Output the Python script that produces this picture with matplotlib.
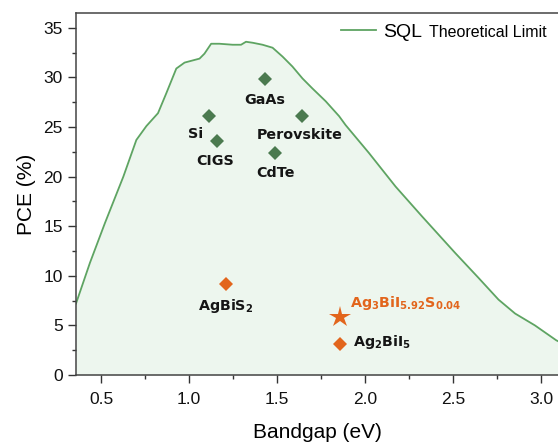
import matplotlib
matplotlib.use("Agg")
import matplotlib.pyplot as plt
from matplotlib.ticker import MultipleLocator

# SQ limit curve
bandgap = [0.357, 0.436, 0.521, 0.626, 0.700, 0.757, 0.823, 0.870, 0.927, 0.974,
           1.059, 1.087, 1.125, 1.172, 1.247, 1.295, 1.323, 1.361, 1.417, 1.474,
           1.531, 1.587, 1.644, 1.700, 1.776, 1.852, 1.889, 2.021, 2.173, 2.323,
           2.512, 2.644, 2.758, 2.852, 2.965, 3.086, 3.12]
sql_pce = [7.2, 11.3, 15.3, 20.0, 23.7, 25.1, 26.4, 28.4, 30.9, 31.5,
           31.9, 32.4, 33.4, 33.4, 33.3, 33.3, 33.6, 33.5, 33.3, 33.0,
           32.1, 31.1, 29.9, 28.9, 27.6, 26.1, 25.2, 22.4, 19.0, 16.0,
           12.3, 9.8, 7.6, 6.2, 5.0, 3.5, 3.2]

# established absorbers
names = ["GaAs", "Si", "CIGS", "Perovskite", "CdTe"]
eg = [1.43, 1.11, 1.16, 1.64, 1.49]
pce = [29.8, 26.1, 23.6, 26.1, 22.4]
name_off = [(0, -25), (-13, -22), (-2, -24), (-2, -23), (0, -24)]

# silver bismuth chalcogenides
ag_names = [r"AgBiS$\mathregular{_2}$", r"Ag$\mathregular{_2}$BiI$\mathregular{_5}$"]
ag_eg = [1.21, 1.86]
ag_pce = [9.15, 3.1]
ag_off = [(0, -26), (13, -2)]
ag_ha = ["center", "left"]

star_name = r"Ag$\mathregular{_3}$BiI$\mathregular{_{5.92}}$S$\mathregular{_{0.04}}$"
star_eg = [1.857]
star_pce = [5.8]

green = "#4b7a4f"
orange = "#e2651c"
line_green = "#5ea462"

plt.rcParams["font.family"] = ["Liberation Sans", "DejaVu Sans"]

fig = plt.figure(figsize=(5.58, 4.44), dpi=100)
ax = fig.add_axes([76 / 558, 1 - 375 / 444, 1 - 76 / 558, (375 - 13) / 444])

ax.fill_between(bandgap, sql_pce, 0, color="#edf6ee", lw=0)
ax.plot(bandgap, sql_pce, color=line_green, lw=1.3, label="SQL")

ax.plot(eg, pce, "D", color=green, ms=7, mew=0, zorder=3)
for n, x, y, off in zip(names, eg, pce, name_off):
    ax.annotate(n, (x, y), xytext=off, textcoords="offset pixels", ha="center",
                va="baseline", fontsize=10.3, fontweight="bold", family="DejaVu Sans",
                color="#151515")

ax.plot(ag_eg, ag_pce, "D", color=orange, ms=7, mew=0, zorder=3)
for n, x, y, off, ha in zip(ag_names, ag_eg, ag_pce, ag_off, ag_ha):
    ax.annotate(n, (x, y), xytext=off, textcoords="offset pixels", ha=ha,
                va="baseline", fontsize=10.3, fontweight="bold", family="DejaVu Sans",
                color="#151515")

ax.plot(star_eg, star_pce, "*", color=orange, ms=16, mew=0, zorder=3)
ax.annotate(star_name, (star_eg[0], star_pce[0]), xytext=(10, 10),
            textcoords="offset pixels", ha="left", va="baseline", fontsize=10.3,
            fontweight="bold", family="DejaVu Sans", color=orange)

ax.set_xlim(0.357, 3.096)
ax.set_ylim(0, 36.5)
ax.xaxis.set_major_locator(MultipleLocator(0.5))
ax.xaxis.set_minor_locator(MultipleLocator(0.25))
ax.yaxis.set_major_locator(MultipleLocator(5))
ax.yaxis.set_minor_locator(MultipleLocator(2.5))
ax.tick_params(which="major", length=6, width=1, colors="#333333", labelsize=12.5,
               labelcolor="#111111")
ax.tick_params(axis="x", which="major", pad=6)
ax.tick_params(which="minor", length=3, width=1, colors="#333333")
for s in ["left", "bottom", "top"]:
    ax.spines[s].set_color("#444444")
    ax.spines[s].set_linewidth(1.1)
ax.spines["right"].set_visible(False)

ax.set_xlabel("Bandgap (eV)", fontsize=15, labelpad=12)
ax.set_ylabel("PCE (%)", fontsize=15, labelpad=5)

leg = ax.legend(loc="center left", bbox_to_anchor=(341 / 558, 1 - 32 / 444),
                bbox_transform=fig.transFigure, frameon=False, fontsize=14,
                handlelength=1.8, handletextpad=0.35, borderpad=0, borderaxespad=0)
ax.annotate("Theoretical Limit", xy=(1, 0), xycoords=leg.get_texts()[0],
            xytext=(5, 0.5), textcoords="offset points", va="bottom", ha="left",
            fontsize=11.5, zorder=10)

fig.savefig("out.png", dpi=100)
